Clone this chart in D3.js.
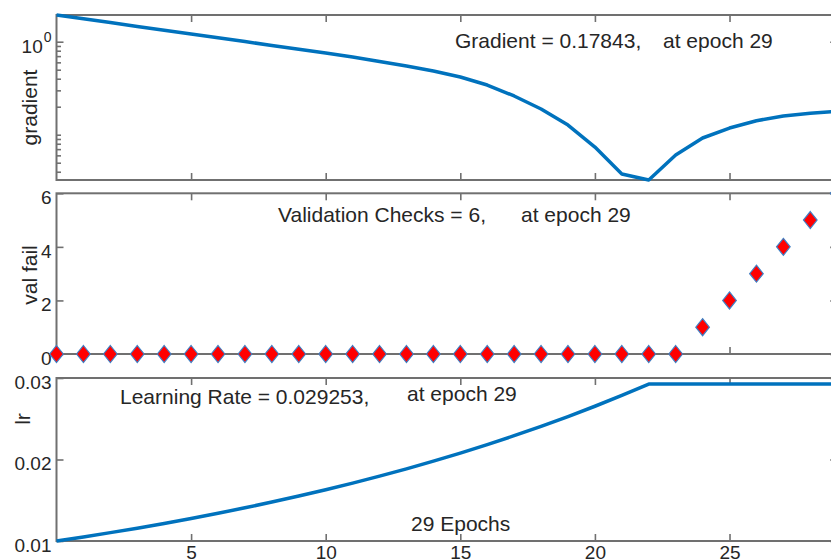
<!DOCTYPE html>
<html>
<head>
<meta charset="utf-8">
<script src="https://cdn.jsdelivr.net/npm/d3@7"></script>
<style>
  html, body { margin: 0; padding: 0; background: #fff; }
  svg { display: block; font-family: "Liberation Sans", Arial, sans-serif; }
</style>
</head>
<body>
<svg id="chart" width="831" height="559"></svg>
<script>
// ---------------- data ----------------
const epochs = [0,1,2,3,4,5,6,7,8,9,10,11,12,13,14,15,16,17,18,19,20,21,22,23,24,25,26,27,28,29];
const gradient = [1.937, 1.763, 1.605, 1.460, 1.329, 1.210, 1.101, 1.0025, 0.912, 0.829,
                  0.756, 0.685, 0.612, 0.548, 0.484, 0.417, 0.342, 0.261, 0.189, 0.127,
                  0.0737, 0.0378, 0.0326, 0.0605, 0.0922, 0.118, 0.1415, 0.159, 0.170, 0.17843];
const valFail = [0,0,0,0,0,0,0,0,0,0,0,0,0,0,0,0,0,0,0,0,0,0,0,0,1,2,3,4,5,6];
const learningRate = [0.01, 0.0105, 0.011025, 0.011576, 0.012155, 0.012763, 0.013401, 0.014071,
                      0.014775, 0.015513, 0.016289, 0.017103, 0.017959, 0.018856, 0.019799,
                      0.020789, 0.021829, 0.022920, 0.024066, 0.025270, 0.026533, 0.027860,
                      0.029253, 0.029253, 0.029253, 0.029253, 0.029253, 0.029253, 0.029253, 0.029253];
const xTicks = [5, 10, 15, 20, 25];
const gradMajorTicks = [1];
const gradMinorTicks = [0.9, 0.8, 0.7, 0.6, 0.5, 0.4, 0.3, 0.2, 0.1, 0.09, 0.08, 0.07, 0.06, 0.05, 0.04];
const valTicks = [0, 2, 4, 6];
const lrTicks = [0.01, 0.02, 0.03];
const titles = {
  grad: ["Gradient = 0.17843,", "at epoch 29"],
  val: ["Validation Checks = 6,", "at epoch 29"],
  lr: ["Learning Rate = 0.029253,", "at epoch 29"],
  epochs: "29 Epochs"
};

// ---------------- layout ----------------
const svg = d3.select("#chart");
const W = 831, H = 559;
svg.append("rect").attr("width", W).attr("height", H).attr("fill", "#fff");

const axisColor = "#707070";
const textColor = "#262626";
const lineColor = "#0072BD";
const tickFont = 19;
const textFont = 21;

const x = d3.scaleLinear().domain([0, 29]).range([56.5, 837.2]);

const panels = {
  grad: { top: 15, bottom: 180 },
  val:  { top: 193.3, bottom: 354 },
  lr:   { top: 378, bottom: 541 }
};

const yGrad = d3.scaleLog().domain([d3.min(gradient), d3.max(gradient)]).range([panels.grad.bottom, panels.grad.top]);
const yVal = d3.scaleLinear().domain([0, 6]).range([panels.val.bottom, panels.val.top]);
const yLr = d3.scaleLinear().domain([0.01, 0.03]).range([panels.lr.bottom, panels.lr.top]);

function styleAxis(g) {
  g.select(".domain").remove();
  g.selectAll(".tick line").attr("stroke", axisColor).attr("stroke-width", 1.6);
  g.selectAll(".tick text").attr("fill", textColor).attr("font-size", tickFont)
    .attr("font-family", "'Liberation Sans', Arial, sans-serif");
}

function drawFrame(p, yScale, yTickVals, fmt, showXLabels) {
  // x ticks bottom (inward)
  svg.append("g").attr("transform", `translate(0,${p.bottom})`)
    .call(d3.axisBottom(x).tickValues(xTicks).tickSizeInner(-7).tickSizeOuter(0).tickPadding(5)
      .tickFormat(showXLabels ? d3.format("d") : () => ""))
    .call(styleAxis);
  // x ticks top (inward)
  svg.append("g").attr("transform", `translate(0,${p.top})`)
    .call(d3.axisTop(x).tickValues(xTicks).tickSizeInner(-7).tickSizeOuter(0).tickFormat(() => ""))
    .call(styleAxis);
  // y ticks left
  if (yScale) {
    const gl = svg.append("g").attr("transform", `translate(${x(0)},0)`)
      .call(d3.axisLeft(yScale).tickValues(yTickVals).tickSizeInner(-7).tickSizeOuter(0).tickPadding(5).tickFormat(fmt))
      .call(styleAxis);
    gl.selectAll(".tick text").attr("dy", "0.55em");
    svg.append("g").attr("transform", `translate(${x(29)},0)`)
      .call(d3.axisRight(yScale).tickValues(yTickVals).tickSizeInner(-7).tickSizeOuter(0).tickFormat(() => ""))
      .call(styleAxis);
  }
  // box
  svg.append("rect")
    .attr("x", x(0)).attr("y", p.top)
    .attr("width", x(29) - x(0)).attr("height", p.bottom - p.top)
    .attr("fill", "none").attr("stroke", axisColor).attr("stroke-width", 2);
}

// ---------- Panel 1: gradient (log) ----------
drawFrame(panels.grad, null);
// minor ticks
svg.append("g").attr("transform", `translate(${x(0)},0)`)
  .call(d3.axisLeft(yGrad).tickValues(gradMinorTicks).tickSizeInner(-4.5).tickSizeOuter(0).tickFormat(() => ""))
  .call(styleAxis);
svg.append("g").attr("transform", `translate(${x(29)},0)`)
  .call(d3.axisRight(yGrad).tickValues(gradMinorTicks).tickSizeInner(-4.5).tickSizeOuter(0).tickFormat(() => ""))
  .call(styleAxis);
// major ticks
const gMaj = svg.append("g").attr("transform", `translate(${x(0)},0)`)
  .call(d3.axisLeft(yGrad).tickValues(gradMajorTicks).tickSizeInner(-7).tickSizeOuter(0).tickPadding(13).tickFormat(() => ""))
  .call(styleAxis);
gMaj.selectAll(".tick text").each(function () {
  const t = d3.select(this);
  t.attr("dy", "0.55em").text("10");
  t.append("tspan").attr("font-size", 14).attr("dy", "-0.75em").attr("dx", "1").text("0");
});
gMaj.selectAll(".tick text").attr("x", -5);
svg.append("g").attr("transform", `translate(${x(29)},0)`)
  .call(d3.axisRight(yGrad).tickValues(gradMajorTicks).tickSizeInner(-7).tickSizeOuter(0).tickFormat(() => ""))
  .call(styleAxis);

svg.append("path")
  .datum(epochs)
  .attr("fill", "none").attr("stroke", lineColor).attr("stroke-width", 3.5)
  .attr("stroke-linejoin", "round")
  .attr("d", d3.line().x(i => x(i)).y(i => yGrad(gradient[i])));

// ---------- Panel 2: validation checks ----------
drawFrame(panels.val, yVal, valTicks, d3.format("d"));
svg.append("g").selectAll("path")
  .data(epochs)
  .join("path")
  .attr("transform", i => `translate(${x(i)},${yVal(valFail[i])})`)
  .attr("d", "M0,-8.5L6.8,0L0,8.5L-6.8,0Z")
  .attr("fill", "#FF0000").attr("stroke", "#3f7fc4").attr("stroke-width", 1.2);

// ---------- Panel 3: learning rate ----------
drawFrame(panels.lr, yLr, lrTicks, d3.format(".2f"), true);
svg.append("path")
  .datum(epochs)
  .attr("fill", "none").attr("stroke", lineColor).attr("stroke-width", 3.5)
  .attr("stroke-linejoin", "round")
  .attr("d", d3.line().x(i => x(i)).y(i => yLr(learningRate[i])));

// ---------- texts ----------
function label(txt, px, py, size) {
  svg.append("text").attr("x", px).attr("y", py).attr("fill", textColor)
    .attr("font-size", size || textFont).text(txt);
}
label(titles.grad[0], 455, 47.5);
label(titles.grad[1], 663, 47.5);
label(titles.val[0], 278, 222);
label(titles.val[1], 521, 222);
label(titles.lr[0], 120, 404);
label(titles.lr[1], 407, 401);
label(titles.epochs, 411, 531);

function yLabel(txt, cx, cy) {
  svg.append("text").attr("transform", `translate(${cx},${cy}) rotate(-90)`)
    .attr("text-anchor", "middle").attr("fill", textColor).attr("font-size", textFont).text(txt);
}
yLabel("gradient", 37, 107.5);
yLabel("val fail", 37, 275);
yLabel("lr", 30, 419);
</script>
</body>
</html>
